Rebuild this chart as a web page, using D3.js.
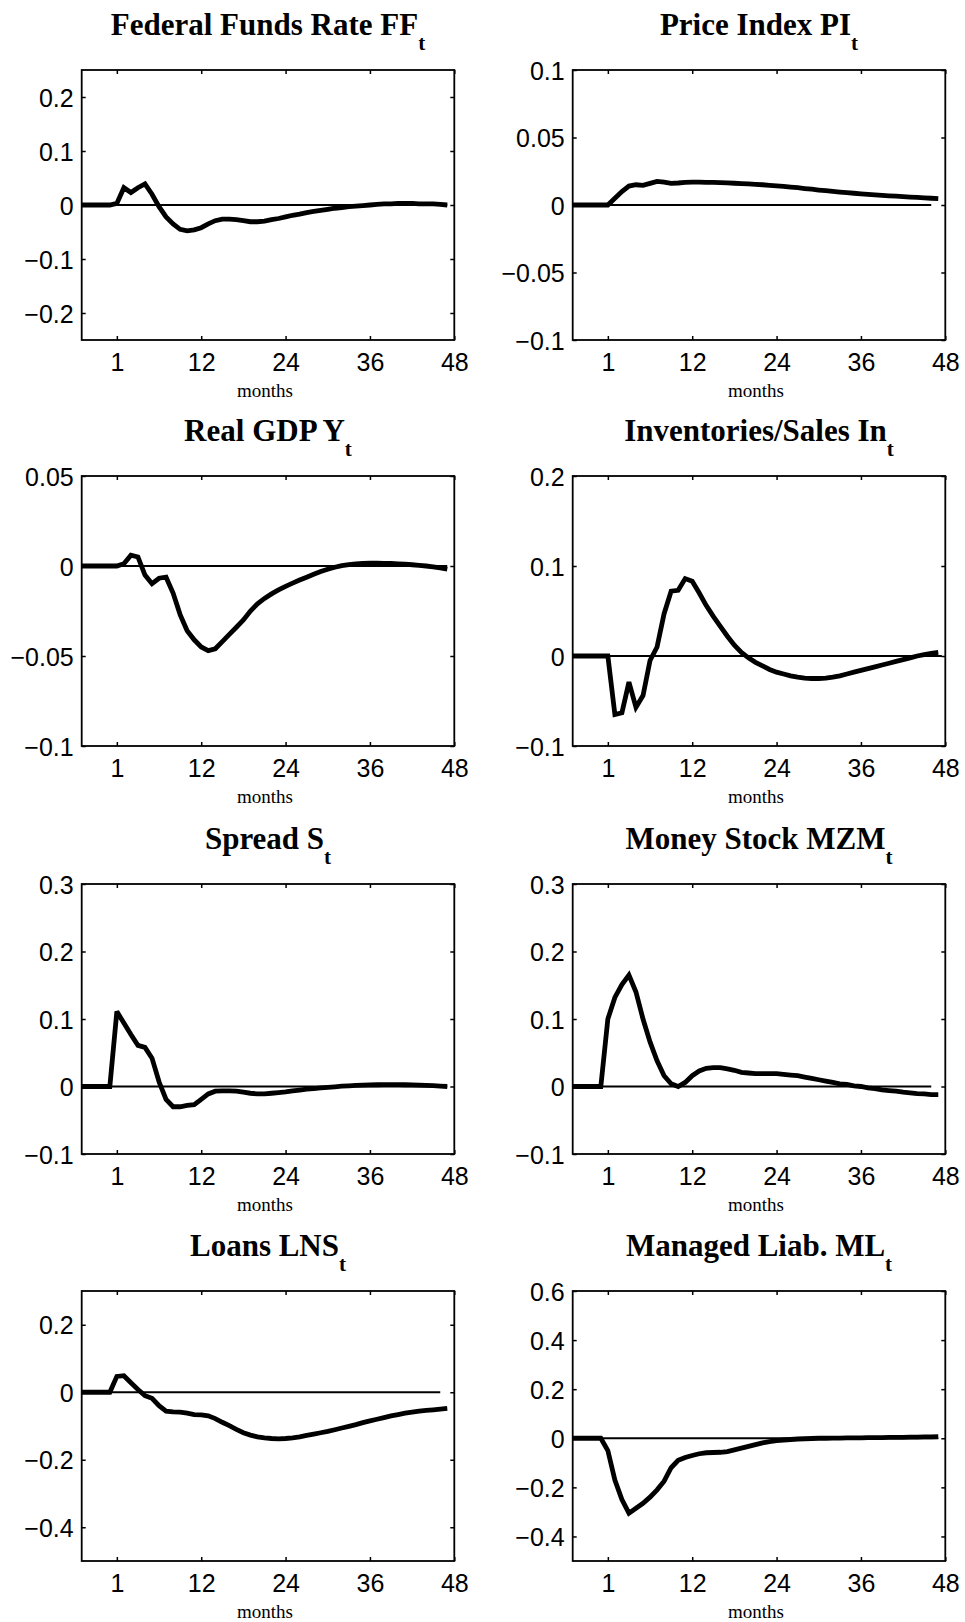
<!DOCTYPE html>
<html>
<head>
<meta charset="utf-8">
<script src="https://cdn.jsdelivr.net/npm/d3@7"></script>
<style>
  html, body { margin: 0; padding: 0; background: #fff; }
  svg { display: block; }
  .tick-label { font-family: "Liberation Sans", Arial, Helvetica, sans-serif; font-size: 25px; fill: #000; }
  .title { font-family: "Liberation Serif", "Times New Roman", serif; font-weight: bold; fill: #000; }
  .xlabel { font-family: "Liberation Serif", "Times New Roman", serif; font-size: 19px; fill: #000; }
</style>
</head>
<body>
<svg id="chart" width="965" height="1622"></svg>
<script>
// Horizon in months; the shock hits at month 0 (labelled "1")
const months = d3.range(-5, 48);
const xTickValues = [0, 12, 24, 36, 48];
const xTickLabels = ["1", "12", "24", "36", "48"];

// Panel titles (main text + subscript)
const titles = ["Federal Funds Rate FF", "Price Index PI", "Real GDP Y", "Inventories/Sales In",
                "Spread S", "Money Stock MZM", "Loans LNS", "Managed Liab. ML"];
const subscripts = ["t", "t", "t", "t", "t", "t", "t", "t"];

// Y-axis ranges and ticks per panel
const yDomains = [[-0.25, 0.25], [-0.1, 0.1], [-0.1, 0.05], [-0.1, 0.2],
                  [-0.1, 0.3], [-0.1, 0.3], [-0.5, 0.3], [-0.5, 0.6]];
const yTicks = [
  [-0.2, -0.1, 0, 0.1, 0.2],
  [-0.1, -0.05, 0, 0.05, 0.1],
  [-0.1, -0.05, 0, 0.05],
  [-0.1, 0, 0.1, 0.2],
  [-0.1, 0, 0.1, 0.2, 0.3],
  [-0.1, 0, 0.1, 0.2, 0.3],
  [-0.4, -0.2, 0, 0.2],
  [-0.4, -0.2, 0, 0.2, 0.4, 0.6]
];
// Where the zero reference line stops (month)
const zeroLineEnd = [47, 46, 47, 47.5, 47, 46, 46, 47];

// Impulse responses, months -5 .. 47
const ffRate = [0, 0, 0, 0, 0,
  0.003, 0.032, 0.023, 0.032, 0.039, 0.020, -0.003, -0.022, -0.035, -0.045,
  -0.048, -0.046, -0.042, -0.035, -0.029, -0.026, -0.026, -0.027, -0.029, -0.031,
  -0.031, -0.030, -0.027, -0.025, -0.022, -0.019, -0.017, -0.014, -0.012, -0.010,
  -0.008, -0.006, -0.005, -0.003, -0.002, -0.001, 0.000, 0.001, 0.002, 0.002,
  0.003, 0.003, 0.003, 0.002, 0.002, 0.002, 0.001, 0.000];

const priceIndex = [0, 0, 0, 0, 0,
  0, 0.005, 0.010, 0.014, 0.015, 0.0145, 0.016, 0.0175, 0.017, 0.016,
  0.0163, 0.0168, 0.017, 0.0169, 0.0168, 0.0167, 0.0166, 0.0164, 0.0161, 0.0158,
  0.0156, 0.0153, 0.015, 0.0146, 0.0142, 0.0138, 0.0133, 0.0128, 0.0122, 0.0117,
  0.0111, 0.0106, 0.0101, 0.0096, 0.0091, 0.0087, 0.0083, 0.0079, 0.0075, 0.0072,
  0.0068, 0.0065, 0.0062, 0.0059, 0.0056, 0.0053, 0.005, 0.0047];

const realGdp = [0, 0, 0, 0, 0,
  0, 0.0013, 0.006, 0.005, -0.005, -0.0098, -0.0068, -0.0062, -0.015, -0.027,
  -0.036, -0.041, -0.045, -0.047, -0.046, -0.042, -0.038, -0.034, -0.030, -0.025,
  -0.021, -0.018, -0.0155, -0.0133, -0.0113, -0.0095, -0.0078, -0.0062, -0.0046, -0.0031,
  -0.0018, -0.0007, 0.0002, 0.0008, 0.0012, 0.0015, 0.0016, 0.0016, 0.0015, 0.0014,
  0.0012, 0.0010, 0.0007, 0.0004, 0.0, -0.0005, -0.0011, -0.0018];

const invSales = [0, 0, 0, 0, 0,
  0, -0.065, -0.063, -0.029, -0.057, -0.044, -0.005, 0.010, 0.047, 0.072,
  0.073, 0.086, 0.083, 0.070, 0.056, 0.044, 0.033, 0.022, 0.012, 0.004,
  -0.002, -0.007, -0.011, -0.015, -0.018, -0.020, -0.022, -0.0235, -0.0245, -0.025,
  -0.025, -0.0245, -0.0235, -0.022, -0.020, -0.018, -0.016, -0.014, -0.012, -0.010,
  -0.008, -0.006, -0.004, -0.002, 0.000, 0.0015, 0.003, 0.004];

const spread = [0, 0, 0, 0, 0,
  0.111, 0.094, 0.077, 0.061, 0.058, 0.042, 0.007, -0.019, -0.030, -0.030,
  -0.028, -0.027, -0.019, -0.011, -0.007, -0.0065, -0.0065, -0.007, -0.0085, -0.010,
  -0.011, -0.011, -0.010, -0.009, -0.008, -0.0065, -0.0052, -0.004, -0.003, -0.002,
  -0.0012, -0.0004, 0.0004, 0.001, 0.0016, 0.002, 0.0024, 0.0026, 0.0027, 0.0027,
  0.0027, 0.0026, 0.0024, 0.0021, 0.0017, 0.0012, 0.0006, 0.0];

const moneyStock = [0, 0, 0, 0, 0,
  0.100, 0.132, 0.151, 0.165, 0.140, 0.100, 0.066, 0.038, 0.016, 0.004,
  0.000, 0.006, 0.016, 0.023, 0.027, 0.028, 0.028, 0.026, 0.024, 0.021,
  0.020, 0.019, 0.019, 0.019, 0.019, 0.018, 0.017, 0.016, 0.014, 0.012,
  0.010, 0.008, 0.006, 0.004, 0.003, 0.001, 0.000, -0.002, -0.003, -0.005,
  -0.006, -0.007, -0.0085, -0.0095, -0.0105, -0.011, -0.012, -0.012];

const loans = [0, 0, 0, 0, 0,
  0.047, 0.049, 0.028, 0.008, -0.010, -0.018, -0.040, -0.056, -0.058, -0.059,
  -0.062, -0.066, -0.067, -0.070, -0.078, -0.089, -0.099, -0.110, -0.120, -0.127,
  -0.132, -0.135, -0.137, -0.138, -0.137, -0.135, -0.132, -0.128, -0.124, -0.120,
  -0.116, -0.111, -0.106, -0.101, -0.096, -0.090, -0.085, -0.080, -0.075, -0.070,
  -0.066, -0.062, -0.059, -0.056, -0.054, -0.052, -0.050, -0.048];

const managedLiab = [0, 0, 0, 0, 0,
  -0.05, -0.17, -0.25, -0.305, -0.285, -0.265, -0.24, -0.21, -0.175, -0.12,
  -0.09, -0.078, -0.07, -0.063, -0.059, -0.058, -0.057, -0.054, -0.047, -0.040,
  -0.033, -0.026, -0.019, -0.014, -0.010, -0.007, -0.005, -0.003, -0.002, -0.001,
  0.000, 0.000, 0.001, 0.001, 0.002, 0.002, 0.002, 0.003, 0.003, 0.003,
  0.004, 0.004, 0.004, 0.005, 0.005, 0.006, 0.006, 0.007];

const seriesList = [ffRate, priceIndex, realGdp, invSales, spread, moneyStock, loans, managedLiab];

// Layout
const colLeft = [81.7, 572.7];
const rowTop = [70, 476, 884, 1291];
const plotW = 372.6, plotH = 270;
const tickLen = 4;

const fmt = v => {
  if (v === 0) return "0";
  const s = String(Math.abs(v));
  return (v < 0 ? "\u2212" : "") + s;
};

const svg = d3.select("#chart");

seriesList.forEach((values, i) => {
  const col = i % 2, row = Math.floor(i / 2);
  const g = svg.append("g").attr("transform", `translate(${colLeft[col]},${rowTop[row]})`);

  const x = d3.scaleLinear().domain([-5, 48]).range([0, plotW]);
  const y = d3.scaleLinear().domain(yDomains[i]).range([plotH, 0]);

  // zero reference line
  g.append("line")
    .attr("x1", x(-5)).attr("x2", x(zeroLineEnd[i]))
    .attr("y1", y(0)).attr("y2", y(0))
    .attr("stroke", "#000").attr("stroke-width", 2.2);

  // response path
  const line = d3.line().x((d, k) => x(months[k])).y(d => y(d));
  g.append("path")
    .datum(values)
    .attr("d", line)
    .attr("fill", "none")
    .attr("stroke", "#000")
    .attr("stroke-width", 4.8)
    .attr("stroke-linejoin", "miter")
    .attr("stroke-miterlimit", 3);

  // axes: labels outside, ticks pointing inward
  const xAxis = d3.axisBottom(x).tickValues(xTickValues)
    .tickFormat((d, k) => xTickLabels[k]).tickSizeInner(-tickLen).tickSizeOuter(0).tickPadding(12);
  const xAxisG = g.append("g").attr("transform", `translate(0,${plotH})`).call(xAxis);
  xAxisG.select(".domain").remove();
  xAxisG.selectAll("line").attr("stroke", "#000").attr("stroke-width", 1.5);
  xAxisG.selectAll("text").attr("class", "tick-label").attr("font-size", null).attr("font-family", null)
    .attr("y", 31).attr("dy", null);

  const xTop = d3.axisTop(x).tickValues(xTickValues).tickFormat("").tickSizeInner(-tickLen).tickSizeOuter(0);
  const xTopG = g.append("g").call(xTop);
  xTopG.select(".domain").remove();
  xTopG.selectAll("line").attr("stroke", "#000").attr("stroke-width", 1.5);

  const yAxis = d3.axisLeft(y).tickValues(yTicks[i]).tickFormat(fmt)
    .tickSizeInner(0).tickSizeOuter(0).tickPadding(8);
  const yAxisG = g.append("g").call(yAxis);
  yAxisG.select(".domain").remove();
  yAxisG.selectAll("line").remove();
  yAxisG.selectAll("text").attr("class", "tick-label").attr("font-size", null).attr("font-family", null)
    .attr("dy", "0.36em");

  const yRight = d3.axisRight(y).tickValues(yTicks[i]).tickFormat("").tickSizeInner(-tickLen).tickSizeOuter(0);
  const yRightG = g.append("g").attr("transform", `translate(${plotW},0)`).call(yRight);
  yRightG.select(".domain").remove();
  yRightG.selectAll("line").attr("stroke", "#000").attr("stroke-width", 1.5);

  const yLeftTicks = d3.axisLeft(y).tickValues(yTicks[i]).tickFormat("").tickSizeInner(-tickLen).tickSizeOuter(0);
  const yLeftG = g.append("g").call(yLeftTicks);
  yLeftG.select(".domain").remove();
  yLeftG.selectAll("line").attr("stroke", "#000").attr("stroke-width", 1.5);

  // box
  g.append("rect")
    .attr("x", 0).attr("y", 0).attr("width", plotW).attr("height", plotH)
    .attr("fill", "none").attr("stroke", "#000").attr("stroke-width", 1.8);

  // title with subscript
  const t = g.append("text").attr("class", "title")
    .attr("x", plotW / 2).attr("y", -35).attr("text-anchor", "middle");
  t.append("tspan").attr("font-size", 31).text(titles[i]);
  t.append("tspan").attr("font-size", 21).attr("dy", 15).text(subscripts[i]);

  // x-axis caption
  g.append("text").attr("class", "xlabel")
    .attr("x", plotW / 2 - 3).attr("y", plotH + 57).attr("text-anchor", "middle")
    .text("months");
});
</script>
</body>
</html>
